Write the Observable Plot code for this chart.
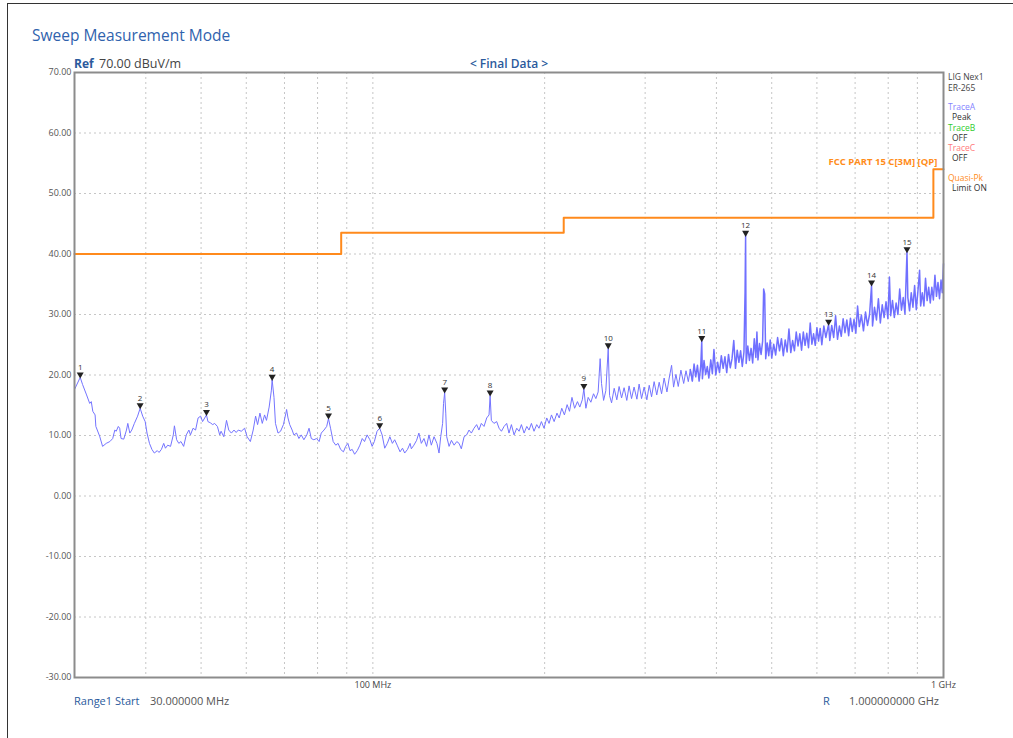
<!DOCTYPE html>
<html><head><meta charset="utf-8">
<script src="https://cdn.jsdelivr.net/npm/d3@7"></script>
<script src="https://cdn.jsdelivr.net/npm/@observablehq/plot@0.6"></script>
<style>
body{margin:0;background:#fff;font-family:"Open Sans",sans-serif;}
#wrap{position:relative;width:1013px;height:738px;overflow:hidden;}
#border{position:absolute;left:7px;top:3px;width:1010px;height:740px;border-left:1px solid #333;border-top:1px solid #333;}
.t{position:absolute;white-space:nowrap;line-height:1;transform:translateY(-50%);}
#chart{position:absolute;left:0;top:0;}
</style></head><body><div id="wrap"><div id="border"></div><div id="chart"></div></div>
<script>
// ---- data ----
const traceFreq = [30.0,30.7,31.0,31.5,31.9,32.1,32.3,32.6,32.7,33.2,33.6,34.1,34.6,35.0,35.3,35.5,35.8,36.0,36.2,36.6,37.0,37.2,37.5,37.8,38.2,38.7,39.1,39.5,39.9,40.2,40.6,41.0,41.4,41.9,42.2,42.6,43.0,43.3,43.7,44.2,44.7,44.9,45.3,45.7,46.1,46.6,47.1,47.6,47.9,48.4,48.9,49.4,49.9,50.3,51.1,51.4,51.9,52.4,52.8,53.4,53.9,54.2,54.8,55.4,55.9,56.5,57.1,57.6,58.1,58.8,59.6,
60.2,61.0,61.7,62.3,62.8,63.4,64.0,64.6,65.1,65.8,66.4,66.6,67.1,67.5,68.2,68.9,69.7,70.4,70.6,71.0,71.5,72.2,72.7,73.5,74.2,74.9,75.7,76.6,77.3,78.0,78.8,79.7,80.5,81.2,82.1,83.0,83.6,84.3,85.2,86.1,86.9,87.8,88.8,89.6,90.4,91.2,92.0,92.9,93.9,94.9,95.8,96.7,97.7,98.8,99.7,100.6,101.7,102.8,103.8,104.9,106.0,107.1,108.2,109.2,110.3,111.6,112.7,113.7,115.0,116.2,
116.8,118.0,119.3,120.4,121.6,122.9,124.2,125.4,126.6,128.0,129.5,130.6,131.5,132.5,133.0,133.6,134.2,134.7,136.0,137.3,138.8,140.3,141.6,142.9,144.5,146.0,147.4,148.8,150.4,152.0,153.4,154.9,156.6,158.3,159.8,160.5,161.3,163.0,164.8,166.4,168.0,169.8,171.6,173.2,174.9,176.8,178.7,180.4,182.1,184.1,186.1,187.8,189.6,191.6,193.7,195.5,197.4,199.5,201.7,203.6,205.6,207.8,210.2,212.1,214.3,216.6,219.0,221.1,223.3,225.7,228.3,230.5,232.8,
234.3,236.2,238.4,241.0,243.6,245.9,248.2,250.2,251.6,253.7,256.0,258.5,259.9,262.0,264.8,267.6,270.1,272.8,275.6,278.6,281.2,284.0,286.9,290.2,292.8,295.7,298.8,302.1,305.0,307.9,311.1,314.4,317.5,320.6,323.9,327.6,330.6,333.8,336.5,339.7,342.9,346.6,350.5,353.8,357.1,360.0,
363,365.5,368,370.5,373,375.5,377,378,380.5,383,385.5,388,391,393.5,396,399,402,405,408,411,414,417,420,423,426,429,432,435,438,441,444,447,449,450,451,454,457,460,463,466,469,471,473,476,479,482,484,486,488,491,494,497,500,504,508,512,516,520,524,528,532,536,540,544,548,552,556,560,564,568,572,576,580,584,588,592,596,600,604,608,612,617,622,627,629,632,637,642,647,652,657,662,667,672,677,682,687,692,697,702,707,712,718,724,730,736,742,748,751,757,763,769,775,781,787,793,799,804,808,814,820,826,832,838,844,850,856,863,866,872,878,884,890,896,902,908,912,918,924,930,936,942,948,954,960,966,972,978,984,990,995,1000];
const traceLevel = [17.6,19.6,18.4,16.7,15.3,15.6,14.0,13.4,11.5,9.9,8.2,8.7,9.0,9.5,10.9,10.7,11.5,11.2,9.5,9.4,10.9,12.0,10.4,10.9,12.0,13.2,14.5,13.2,12.3,10.4,8.7,7.7,7.1,7.5,7.2,7.7,8.7,7.9,8.4,8.2,10.1,11.6,9.3,8.7,9.0,8.2,10.1,10.9,10.1,11.2,10.9,12.9,13.2,12.3,13.4,12.3,12.1,11.8,12.0,11.5,10.1,10.7,9.8,12.5,10.9,10.4,10.9,10.5,10.9,10.7,11.2,
9.8,9.0,10.9,13.2,11.8,13.7,12.0,13.4,12.5,14.7,17.5,19.2,16.3,12.0,10.4,10.7,11.8,13.7,14.3,12.9,11.8,10.9,10.1,10.4,9.5,10.1,9.3,10.1,11.2,9.5,9.3,9.5,9.0,10.4,10.9,11.5,12.8,11.2,9.0,8.4,8.7,7.7,7.3,8.2,8.7,7.5,7.7,6.9,7.5,8.4,9.5,9.0,10.1,9.3,8.2,9.0,10.7,11.2,10.1,7.9,8.7,9.8,8.7,9.3,8.4,7.3,7.9,7.1,7.7,8.7,
7.8,8.4,9.2,10.4,8.7,9.5,8.2,10.1,8.4,9.8,8.7,7.1,9.8,12.0,15.3,17.1,13.7,9.8,8.2,9.2,8.4,9.0,8.7,7.8,9.8,10.1,10.9,10.4,11.2,11.8,10.9,12.0,11.5,12.9,13.4,16.6,12.5,12.0,12.3,11.2,10.7,11.5,12.0,10.4,11.8,10.1,11.2,10.7,11.8,10.4,11.5,10.9,12.0,10.7,11.8,11.2,12.3,11.2,12.9,12.0,13.4,12.3,13.7,12.9,14.5,13.4,15.1,14.0,16.3,14.5,15.6,14.7,15.9,
17.7,14.5,16.3,15.5,16.9,16.1,17.2,22.7,18.6,15.8,17.4,24.4,16.6,15.4,17.8,15.9,18.1,16.2,17.9,15.8,18.2,16.1,18.0,16.0,18.5,16.1,18.0,15.9,18.3,16.4,18.9,16.7,18.8,16.9,19.5,17.2,19.5,21.6,18.0,20.1,18.1,20.8,18.6,20.7,18.9,20.9,
19.0,21.8,19.7,21.6,19.0,21.5,25.6,19.4,22.4,20.1,21.4,19.5,22.5,20.2,24.2,20.0,22.1,20.4,23.2,21.1,23.0,20.4,23.4,21.2,22.7,25.7,21.1,24.1,22.1,24.0,21.4,23.8,33.6,43.0,21.9,24.8,22.4,24.4,22.0,26.0,22.9,27.1,22.5,25.2,23.4,25.6,34.2,33.4,22.7,25.3,23.2,25.8,22.8,25.1,23.3,26.2,24.0,26.0,23.2,25.8,23.8,27.6,23.7,25.7,24.0,27.1,24.8,26.8,24.1,27.1,24.9,26.9,24.5,28.6,25.1,26.8,24.9,27.8,25.6,27.7,25.0,28.1,26.2,27.8,28.3,25.7,28.2,26.2,29.8,25.9,28.1,26.4,29.3,27.0,29.1,26.5,29.4,27.2,29.2,26.9,31.4,28.0,29.9,27.3,30.4,28.2,30.0,34.8,28.1,31.2,29.1,32.6,28.6,31.6,29.5,32.1,29.3,36.2,29.8,32.3,29.5,31.9,30.0,34.2,30.7,32.8,30.1,40.3,32.8,30.6,33.6,31.2,34.8,30.8,33.9,37.3,31.4,33.6,31.4,36.0,32.3,34.5,31.9,34.5,32.4,36.5,33.0,35.3,32.6,35.7,33.6,38.4];

const limitFreq = [30, 88, 216, 960, 1000];
const limitLevel = [40, 43.5, 46, 54, 54];
const limitName = "FCC PART 15 C[3M] [QP]";

const markerFreq = [30.7, 39.1, 51.1, 66.6, 83.6, 102.8, 133.6, 160.5, 234.3, 258.5, 377, 450, 629, 748, 863];
const markerLevel = [19.6, 14.5, 13.4, 19.2, 12.8, 11.2, 17.1, 16.6, 17.7, 24.4, 25.6, 43.0, 28.3, 34.8, 40.3];
const markerLabel = ["1","2","3","4","5","6","7","8","9","10","11","12","13","14","15"];

const yTicks = [70, 60, 50, 40, 30, 20, 10, 0, -10, -20, -30];
const xTicks = [100, 1000];
const xTickLabels = ["100 MHz", "1 GHz"];
const gridFreq = [40, 50, 60, 70, 80, 90, 100, 200, 300, 400, 500, 600, 700, 800, 900];

const legendLines = [
  ["LIG Nex1", "#444", 0], ["ER-265", "#444", 0],
  ["TraceA", "#8484ff", 0], ["Peak", "#333", 4],
  ["TraceB", "#2ecc2e", 0], ["OFF", "#333", 4],
  ["TraceC", "#ff7a7a", 0], ["OFF", "#333", 4],
  ["Quasi-Pk", "#ff8c1a", 0], ["Limit ON", "#333", 4]
];
const legendY = [77, 88, 107, 117, 128, 138, 148, 158, 178, 188];

// ---- build tables ----
const trace = traceFreq.map((f, i) => ({f, v: traceLevel[i]}));
const traceLow = trace.filter(d => d.f <= 363);
const traceHigh = trace.filter(d => d.f >= 360);
const limit = limitFreq.map((f, i) => ({f, v: limitLevel[i]}));
const markers = markerFreq.map((f, i) => ({f, v: markerLevel[i], t: markerLabel[i]}));
const limitTag = [{f: limitFreq[3], v: limitLevel[3], t: limitName}];

const chart = Plot.plot({
  width: 1013, height: 738,
  marginLeft: 74, marginRight: 70, marginTop: 72, marginBottom: 61,
  style: {fontFamily: '"Open Sans", sans-serif', background: "transparent", overflow: "visible"},
  x: {type: "log", domain: [30, 1000]},
  y: {domain: [-30, 70]},
  marks: [
    Plot.ruleY(yTicks.slice(1, -1), {stroke: "#c6c6c6", strokeDasharray: "2,3"}),
    Plot.ruleX(gridFreq, {stroke: "#c6c6c6", strokeDasharray: "2,3"}),
    Plot.line(traceLow, {x: "f", y: "v", stroke: "#7474ff", strokeWidth: 1}),
    Plot.line(traceHigh, {x: "f", y: "v", stroke: "#7070ff", strokeWidth: 1.5}),
    Plot.line(limit, {x: "f", y: "v", curve: "step-after", stroke: "#ff8a1c", strokeWidth: 2}),
    Plot.frame({stroke: "#8c8c8c", strokeWidth: 2}),
    Plot.dot(markers, {x: "f", y: "v", symbol: "triangle", rotate: 180, r: 2.6, fill: "#222", stroke: "none", dy: -3}),
    Plot.text(markers, {x: "f", y: "v", text: "t", dy: -10, fontSize: 8, fill: "#333"}),
    Plot.text(limitTag, {x: "f", y: "v", text: "t", dx: 4, dy: -7, textAnchor: "end", fontSize: 9.5, fontWeight: "bold", fill: "#ff8c1a", style: "letter-spacing:1.2px"}),
    Plot.axisX(xTicks, {tickSize: 0, tickPadding: 4, fontSize: 9, fill: "#444", label: null,
      tickFormat: d => xTickLabels[xTicks.indexOf(d)]}),
    Plot.axisY(yTicks, {tickSize: 0, tickPadding: 3, fontSize: 9, fill: "#555", label: null,
      tickFormat: d => d.toFixed(2)})
  ]
});
document.getElementById("chart").appendChild(chart);

// ---- HTML texts ----
const wrap = document.getElementById("wrap");
function addText(txt, left, cy, css) {
  const d = document.createElement("div");
  d.className = "t";
  d.textContent = txt;
  d.style.left = left + "px";
  d.style.top = cy + "px";
  d.style.cssText += css;
  wrap.appendChild(d);
  return d;
}
addText("Sweep Measurement Mode", 32, 36, "font-size:15.5px;color:#2f62ad;");
addText("Ref", 74, 64, "font-size:12px;font-weight:bold;color:#2b5a9c;");
addText("70.00 dBuV/m", 99, 64, "font-size:12.5px;color:#444;");
const fd = addText("< Final Data >", 509, 64, "font-size:12px;font-weight:600;color:#2b5a9c;");
fd.style.transform = "translate(-50%,-50%)";
legendLines.forEach((l, i) => addText(l[0], 948 + l[2], legendY[i], `font-size:8.5px;color:${l[1]};`));
addText("Range1 Start", 74, 700, "font-size:11px;color:#2b5a9c;");
addText("30.000000 MHz", 150, 700, "font-size:11px;color:#555;");
addText("R", 823, 700, "font-size:11px;color:#2b5a9c;");
addText("1.000000000 GHz", 849, 700, "font-size:11px;color:#555;");
</script>
</body></html>
